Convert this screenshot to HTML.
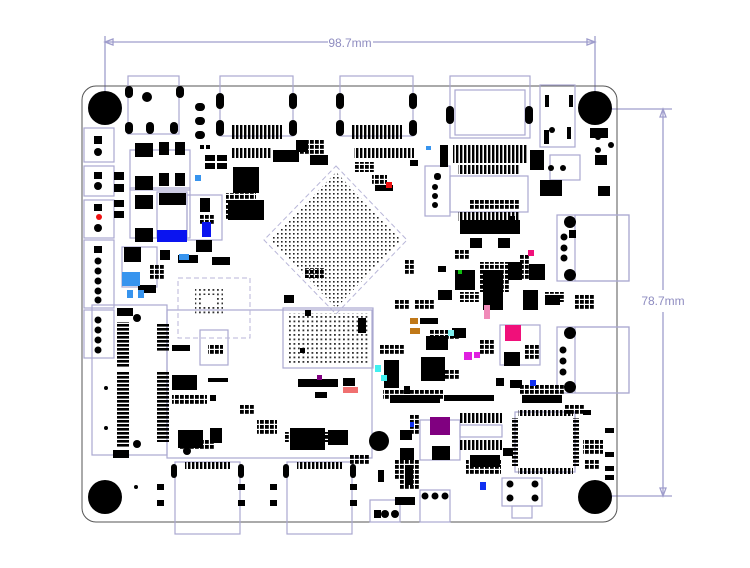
<!DOCTYPE html>
<html><head><meta charset="utf-8"><style>
html,body{margin:0;padding:0;background:#fff;}
svg{display:block;}
text{font-family:"Liberation Sans",sans-serif;}
</style></head><body>
<svg width="750" height="568" viewBox="0 0 750 568" xmlns="http://www.w3.org/2000/svg">
<defs>
<pattern id="hbar" width="6" height="4" patternUnits="userSpaceOnUse"><rect width="6" height="2.6" fill="#000"/></pattern>
<pattern id="vbar" width="4" height="6" patternUnits="userSpaceOnUse"><rect width="2.4" height="6" fill="#000"/></pattern>
<pattern id="dots" width="4" height="4" patternUnits="userSpaceOnUse"><rect x="1" y="1" width="1.6" height="1.6" fill="#222"/></pattern>
<pattern id="dots2" width="4.5" height="4.5" patternUnits="userSpaceOnUse"><rect x="1" y="1" width="1.8" height="1.8" fill="#333"/></pattern>
<pattern id="smd" width="5" height="5" patternUnits="userSpaceOnUse"><rect width="3.8" height="3.8" fill="#000"/></pattern>
</defs>
<g stroke="#9f9dcc" stroke-width="1.3" fill="none">
<line x1="105" y1="36" x2="105" y2="108"/><line x1="595" y1="36" x2="595" y2="108"/>
<line x1="105" y1="42" x2="328" y2="42"/><line x1="373" y1="42" x2="595" y2="42"/>
<line x1="598" y1="109" x2="672" y2="109"/><line x1="598" y1="496" x2="672" y2="496"/>
<line x1="663" y1="109" x2="663" y2="290"/><line x1="663" y1="312" x2="663" y2="496"/>
<path d="M105 42l8-3v6zM595 42l-8-3v6zM663 109l-3 8h6zM663 496l-3-8h6z"/>
</g>
<text x="350" y="47" font-size="12" fill="#8e8cc0" text-anchor="middle">98.7mm</text>
<text x="663" y="305" font-size="12" fill="#8e8cc0" text-anchor="middle">78.7mm</text>
<rect x="82" y="86" width="535" height="436" rx="14" fill="none" stroke="#555" stroke-width="1"/>
<g fill="#000">
<circle cx="105" cy="108" r="17"/><circle cx="595" cy="108" r="17"/>
<circle cx="105" cy="497" r="17"/><circle cx="595" cy="497" r="17"/>
</g>
<g fill="none" stroke="#aaa8d0" stroke-width="1.2">
<rect x="84" y="128" width="30" height="34"/>
<rect x="84" y="166" width="30" height="30"/><rect x="84" y="200" width="30" height="38"/>
<rect x="84" y="240" width="30" height="68"/><rect x="84" y="310" width="30" height="48"/>
<rect x="128" y="76" width="51" height="58"/>
<rect x="220" y="76" width="73" height="60"/><rect x="340" y="76" width="73" height="60"/>
<rect x="450" y="76" width="80" height="62"/><rect x="455" y="90" width="70" height="45"/>
<rect x="540" y="85" width="35" height="62"/>
<rect x="450" y="176" width="78" height="36"/>
<rect x="425" y="166" width="25" height="50"/>
<rect x="557" y="215" width="72" height="66"/><rect x="575" y="215" width="54" height="66"/>
<rect x="557" y="327" width="72" height="66"/><rect x="575" y="327" width="54" height="66"/>
<rect x="175" y="462" width="65" height="72"/><rect x="287" y="462" width="65" height="72"/>
<rect x="370" y="500" width="30" height="22"/><rect x="420" y="490" width="30" height="32"/>
<rect x="502" y="478" width="40" height="28"/><rect x="512" y="506" width="20" height="12"/>
<rect x="515" y="412" width="60" height="60"/>
<rect x="460" y="425" width="42" height="12"/>
<rect x="500" y="325" width="40" height="40"/>
<rect x="420" y="420" width="40" height="40"/>
<rect x="92" y="305" width="75" height="150"/><rect x="167" y="310" width="205" height="148"/>
<rect x="283" y="308" width="90" height="60"/>
<rect x="122" y="247" width="35" height="40"/>
<rect x="130" y="150" width="60" height="40"/><rect x="130" y="188" width="60" height="50"/>
<rect x="187" y="195" width="35" height="45"/><rect x="157" y="192" width="30" height="45"/>
<rect x="200" y="330" width="28" height="35"/>
<rect x="550" y="155" width="30" height="25"/>
</g>
<g fill="none" stroke="#b8b6d8" stroke-dasharray="5 3">
<rect x="178" y="278" width="72" height="60"/>
<polygon points="336,166 407,240 336,314 264,240"/>
</g>
<polygon points="336,172 401,240 336,308 270,240" fill="url(#dots)"/>
<rect x="195" y="287" width="28" height="28" fill="url(#dots2)"/>
<rect x="203" y="295" width="12" height="12" fill="#fff"/>
<rect x="288" y="313" width="80" height="52" fill="url(#dots2)"/>
<rect x="117" y="322" width="12" height="45" fill="url(#hbar)"/>
<rect x="117" y="372" width="12" height="75" fill="url(#hbar)"/>
<rect x="157" y="324" width="12" height="28" fill="url(#hbar)"/>
<rect x="157" y="372" width="12" height="70" fill="url(#hbar)"/>
<rect x="232" y="125" width="50" height="14" fill="url(#vbar)"/>
<rect x="352" y="125" width="50" height="14" fill="url(#vbar)"/>
<rect x="232" y="148" width="40" height="10" fill="url(#vbar)"/>
<rect x="354" y="148" width="60" height="10" fill="url(#vbar)"/>
<rect x="453" y="145" width="75" height="18" fill="url(#vbar)"/>
<rect x="458" y="165" width="62" height="9" fill="url(#vbar)"/>
<rect x="458" y="212" width="62" height="9" fill="url(#vbar)"/>
<rect x="185" y="462" width="45" height="7" fill="url(#vbar)"/>
<rect x="297" y="462" width="45" height="7" fill="url(#vbar)"/>
<rect x="460" y="413" width="42" height="10" fill="url(#vbar)"/>
<rect x="460" y="440" width="42" height="10" fill="url(#vbar)"/>
<rect x="518" y="410" width="55" height="6" fill="url(#vbar)"/>
<rect x="518" y="468" width="55" height="6" fill="url(#vbar)"/>
<rect x="512" y="418" width="6" height="48" fill="url(#hbar)"/>
<rect x="573" y="418" width="6" height="48" fill="url(#hbar)"/>
<!-- extra smd clusters -->
<g fill="url(#smd)">
<rect x="226" y="193" width="30" height="10"/><rect x="226" y="205" width="10" height="15"/>
<rect x="355" y="162" width="20" height="10"/><rect x="372" y="175" width="15" height="10"/>
<rect x="208" y="345" width="15" height="10"/><rect x="172" y="395" width="35" height="10"/>
<rect x="180" y="440" width="35" height="10"/><rect x="285" y="432" width="60" height="10"/>
<rect x="300" y="140" width="25" height="15"/><rect x="345" y="147" width="0" height="0"/>
<rect x="480" y="262" width="30" height="30"/><rect x="520" y="255" width="10" height="25"/>
<rect x="460" y="292" width="20" height="10"/><rect x="545" y="292" width="20" height="10"/>
<rect x="430" y="330" width="30" height="10"/><rect x="380" y="345" width="25" height="10"/>
<rect x="395" y="300" width="15" height="10"/><rect x="383" y="390" width="60" height="10"/>
<rect x="410" y="415" width="10" height="20"/><rect x="395" y="460" width="25" height="20"/>
<rect x="466" y="460" width="35" height="15"/><rect x="520" y="385" width="45" height="10"/>
<rect x="583" y="440" width="20" height="15"/><rect x="585" y="460" width="15" height="10"/>
<rect x="470" y="200" width="50" height="10"/><rect x="455" y="250" width="15" height="10"/>
<rect x="415" y="300" width="20" height="10"/><rect x="480" y="340" width="15" height="15"/>
<rect x="525" y="345" width="15" height="15"/><rect x="445" y="370" width="15" height="10"/>
<rect x="257" y="420" width="20" height="15"/><rect x="240" y="405" width="15" height="10"/>
<rect x="575" y="295" width="20" height="15"/><rect x="565" y="405" width="20" height="10"/>
<rect x="350" y="455" width="20" height="10"/><rect x="400" y="480" width="20" height="10"/>
<rect x="305" y="268" width="20" height="10"/><rect x="405" y="260" width="10" height="15"/>
<rect x="150" y="265" width="15" height="15"/><rect x="200" y="215" width="15" height="10"/>
</g>
<g fill="#000">
<rect x="94" y="136" width="8" height="8"/><circle cx="98" cy="152" r="4"/>
<rect x="94" y="172" width="8" height="7"/><circle cx="98" cy="186" r="4"/>
<rect x="94" y="204" width="8" height="7"/><circle cx="98" cy="228" r="4"/>
<rect x="94" y="246" width="8" height="7"/>
<circle cx="98" cy="261" r="3.5"/><circle cx="98" cy="271" r="3.5"/><circle cx="98" cy="281" r="3.5"/><circle cx="98" cy="291" r="3.5"/><circle cx="98" cy="300" r="3.5"/>
<circle cx="98" cy="320" r="3.5"/><circle cx="98" cy="330" r="3.5"/><circle cx="98" cy="340" r="3.5"/><circle cx="98" cy="350" r="3.5"/>
<rect x="125" y="86" width="8" height="12" rx="4"/><rect x="176" y="86" width="8" height="12" rx="4"/>
<rect x="125" y="122" width="8" height="12" rx="4"/><rect x="146" y="122" width="8" height="12" rx="4"/><rect x="170" y="122" width="8" height="12" rx="4"/>
<circle cx="147" cy="97" r="5"/>
<rect x="216" y="93" width="8" height="16" rx="4"/><rect x="289" y="93" width="8" height="16" rx="4"/>
<rect x="216" y="120" width="8" height="16" rx="4"/><rect x="289" y="120" width="8" height="16" rx="4"/>
<rect x="336" y="93" width="8" height="16" rx="4"/><rect x="409" y="93" width="8" height="16" rx="4"/>
<rect x="336" y="120" width="8" height="16" rx="4"/><rect x="409" y="120" width="8" height="16" rx="4"/>
<rect x="446" y="106" width="8" height="18" rx="4"/><rect x="525" y="106" width="8" height="18" rx="4"/>
<rect x="195" y="103" width="10" height="8" rx="4"/><rect x="195" y="117" width="10" height="8" rx="4"/><rect x="195" y="131" width="10" height="8" rx="4"/>
<rect x="545" y="95" width="4" height="12"/><rect x="569" y="95" width="4" height="12"/><rect x="544" y="130" width="5" height="14"/><rect x="567" y="127" width="4" height="12"/>
<rect x="135" y="143" width="18" height="14"/><rect x="135" y="176" width="18" height="14"/>
<rect x="135" y="195" width="18" height="14"/><rect x="135" y="228" width="18" height="14"/>
<rect x="159" y="142" width="10" height="13"/><rect x="175" y="142" width="10" height="13"/>
<rect x="159" y="173" width="10" height="13"/><rect x="175" y="173" width="10" height="13"/>
<rect x="114" y="172" width="10" height="8"/><rect x="114" y="184" width="10" height="8"/>
<rect x="114" y="200" width="10" height="7"/><rect x="114" y="211" width="10" height="7"/>
<rect x="159" y="193" width="27" height="12"/><rect x="200" y="198" width="10" height="14"/>
<rect x="124" y="247" width="17" height="15"/>
<rect x="117" y="308" width="16" height="8"/><rect x="113" y="450" width="16" height="8"/>
<rect x="233" y="167" width="26" height="26"/>
<rect x="421" y="357" width="24" height="24"/>
<rect x="455" y="270" width="20" height="20"/>
<rect x="529" y="264" width="16" height="16"/>
<rect x="504" y="352" width="16" height="14"/>
<rect x="595" y="155" width="12" height="10"/><rect x="598" y="186" width="12" height="10"/>
<rect x="432" y="446" width="18" height="14"/>
<rect x="508" y="216" width="7" height="8"/><rect x="569" y="230" width="7" height="8"/>
<circle cx="570" cy="222" r="6"/><circle cx="570" cy="275" r="6"/>
<circle cx="564" cy="237" r="3.5"/><circle cx="564" cy="248" r="3.5"/><circle cx="564" cy="258" r="3.5"/>
<circle cx="570" cy="333" r="6"/><circle cx="570" cy="387" r="6"/>
<circle cx="563" cy="350" r="3.5"/><circle cx="563" cy="361" r="3.5"/><circle cx="563" cy="372" r="3.5"/>
<rect x="434" y="173" width="7" height="7" rx="3"/><circle cx="435" cy="187" r="3"/><circle cx="435" cy="196" r="3"/><circle cx="435" cy="205" r="3"/>
<circle cx="379" cy="441" r="10"/>
<circle cx="385" cy="514" r="4"/><circle cx="395" cy="514" r="4"/><rect x="374" y="510" width="7" height="8"/>
<circle cx="425" cy="496" r="3.5"/><circle cx="435" cy="496" r="3.5"/><circle cx="445" cy="496" r="3.5"/>
<circle cx="510" cy="484" r="3.5"/><circle cx="535" cy="484" r="3.5"/><circle cx="510" cy="498" r="3.5"/><circle cx="535" cy="498" r="3.5"/>
<circle cx="556" cy="185" r="3"/><circle cx="598" cy="137" r="3"/><circle cx="611" cy="145" r="3"/><circle cx="598" cy="150" r="3"/>
<circle cx="552" cy="130" r="3"/><circle cx="551" cy="168" r="3"/><circle cx="563" cy="168" r="3"/>
<circle cx="136" cy="487" r="2"/><circle cx="106" cy="388" r="2"/><circle cx="106" cy="428" r="2"/>
<circle cx="137" cy="318" r="4"/><circle cx="137" cy="444" r="4"/><circle cx="187" cy="451" r="4"/>
<rect x="171" y="464" width="6" height="14" rx="3"/><rect x="238" y="464" width="6" height="14" rx="3"/>
<rect x="157" y="484" width="7" height="6"/><rect x="157" y="500" width="7" height="6"/><rect x="238" y="484" width="7" height="6"/><rect x="238" y="500" width="7" height="6"/>
<rect x="283" y="464" width="6" height="14" rx="3"/><rect x="350" y="464" width="6" height="14" rx="3"/>
<rect x="270" y="484" width="7" height="6"/><rect x="270" y="500" width="7" height="6"/><rect x="350" y="484" width="7" height="6"/><rect x="350" y="500" width="7" height="6"/>
<rect x="404" y="386" width="6" height="8"/>
<rect x="583" y="410" width="8" height="5"/><rect x="605" y="428" width="9" height="5"/><rect x="605" y="452" width="9" height="5"/><rect x="605" y="466" width="9" height="5"/><rect x="605" y="475" width="9" height="5"/>
<rect x="200" y="145" width="4" height="4"/><rect x="206" y="145" width="4" height="4"/>
<rect x="205" y="155" width="10" height="6"/><rect x="217" y="155" width="10" height="6"/><rect x="205" y="163" width="10" height="6"/><rect x="217" y="163" width="10" height="6"/>
<rect x="273" y="150" width="26" height="12"/>
<rect x="228" y="200" width="36" height="20"/>
<rect x="196" y="240" width="16" height="12"/><rect x="212" y="257" width="18" height="8"/>
<rect x="160" y="250" width="10" height="10"/><rect x="178" y="255" width="20" height="8"/>
<rect x="138" y="285" width="18" height="8"/>
<rect x="172" y="345" width="18" height="6"/><rect x="172" y="375" width="25" height="15"/>
<rect x="208" y="378" width="20" height="4"/><rect x="210" y="395" width="6" height="6"/>
<rect x="178" y="430" width="25" height="18"/><rect x="210" y="428" width="12" height="15"/>
<rect x="290" y="428" width="35" height="22"/><rect x="328" y="430" width="20" height="15"/>
<rect x="298" y="379" width="40" height="8"/><rect x="315" y="392" width="12" height="6"/>
<rect x="343" y="378" width="12" height="8"/>
<rect x="390" y="395" width="50" height="8"/><rect x="444" y="395" width="50" height="6"/>
<rect x="384" y="360" width="15" height="28"/>
<rect x="426" y="336" width="22" height="14"/><rect x="452" y="328" width="14" height="10"/>
<rect x="420" y="318" width="18" height="6"/>
<rect x="483" y="270" width="20" height="40"/><rect x="508" y="262" width="14" height="18"/>
<rect x="523" y="290" width="15" height="20"/><rect x="545" y="295" width="15" height="10"/>
<rect x="438" y="290" width="14" height="10"/><rect x="438" y="266" width="8" height="6"/>
<rect x="460" y="220" width="60" height="14"/><rect x="470" y="238" width="12" height="10"/><rect x="498" y="238" width="12" height="10"/>
<rect x="440" y="145" width="8" height="22"/>
<rect x="530" y="150" width="14" height="20"/><rect x="540" y="180" width="22" height="16"/>
<rect x="590" y="128" width="18" height="10"/>
<rect x="496" y="378" width="8" height="8"/><rect x="510" y="380" width="12" height="8"/>
<rect x="522" y="395" width="40" height="8"/><rect x="470" y="455" width="30" height="12"/>
<rect x="503" y="448" width="10" height="8"/>
<rect x="400" y="430" width="12" height="10"/><rect x="400" y="448" width="14" height="12"/>
<rect x="405" y="465" width="8" height="20"/><rect x="378" y="470" width="6" height="12"/>
<rect x="395" y="497" width="20" height="8"/>
<rect x="300" y="348" width="5" height="5"/>
<rect x="358" y="318" width="8" height="15"/>
<rect x="284" y="295" width="10" height="8"/><rect x="296" y="140" width="12" height="12"/>
<rect x="310" y="155" width="18" height="10"/>
<rect x="305" y="310" width="6" height="6"/>
<rect x="375" y="185" width="18" height="6"/>
<rect x="410" y="160" width="8" height="6"/>
</g>
<g>
<rect x="157" y="230" width="30" height="12" fill="#0a14f0"/>
<rect x="202" y="222" width="9" height="15" fill="#0a14f0"/>
<rect x="122" y="272" width="18" height="14" fill="#3794ee"/>
<rect x="127" y="290" width="6" height="8" fill="#3794ee"/><rect x="138" y="290" width="6" height="8" fill="#3794ee"/>
<rect x="179" y="254" width="10" height="6" fill="#3794ee"/>
<rect x="195" y="175" width="6" height="6" fill="#3794ee"/>
<rect x="96" y="214" width="6" height="6" fill="#e11" rx="3"/>
<rect x="505" y="325" width="16" height="16" fill="#f0107a"/>
<rect x="484" y="305" width="6" height="14" fill="#f08ab8"/>
<rect x="464" y="352" width="8" height="8" fill="#e020e0"/><rect x="474" y="352" width="6" height="6" fill="#e020e0"/>
<rect x="528" y="250" width="6" height="6" fill="#f0107a"/>
<rect x="430" y="417" width="20" height="18" fill="#800080"/>
<rect x="343" y="387" width="15" height="6" fill="#f07070"/>
<rect x="317" y="375" width="5" height="5" fill="#800080"/>
<rect x="375" y="365" width="6" height="7" fill="#40f0f0"/><rect x="381" y="375" width="6" height="6" fill="#40f0f0"/>
<rect x="410" y="318" width="8" height="6" fill="#c07818"/><rect x="410" y="328" width="10" height="6" fill="#c07818"/>
<rect x="448" y="330" width="6" height="6" fill="#80f0f0"/>
<rect x="530" y="380" width="6" height="6" fill="#1030f0"/>
<rect x="480" y="482" width="6" height="8" fill="#1030f0"/>
<rect x="410" y="422" width="4" height="5" fill="#1030f0"/>
<rect x="426" y="146" width="5" height="4" fill="#3794ee"/>
<rect x="386" y="182" width="6" height="6" fill="#e11"/>
<rect x="458" y="270" width="4" height="4" fill="#10c010"/>
</g>
</svg>
</body></html>
